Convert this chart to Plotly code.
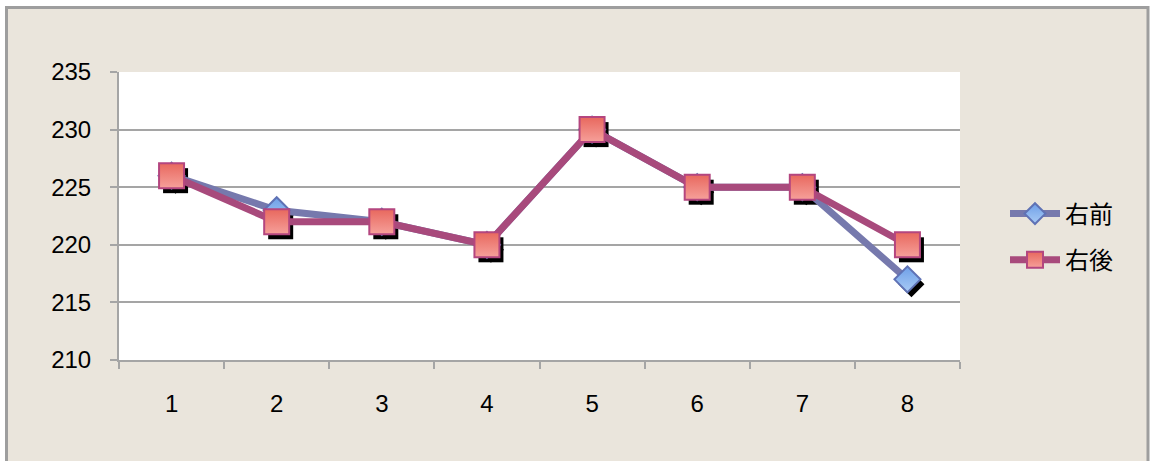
import plotly.graph_objects as go

categories = [1, 2, 3, 4, 5, 6, 7, 8]
series_names = ["右前", "右後"]
right_front = [226, 223, 222, 220, 230, 225, 225, 217]
right_rear = [226, 222, 222, 220, 230, 225, 225, 220]
y_ticks = [210, 215, 220, 225, 230, 235]

W, H = 1151, 461
L, R, T, B = 119, 187, 72, 96
pw, ph = W - L - R, H - T - B
ex, ey = 4 / pw, 5 / ph
grid = "#A5A5A5"
font_fam = "Liberation Sans, Noto Sans CJK JP"

fig = go.Figure()

# shadows (pixel offsets converted through axis scale)
xr = (0.5, 8.5)
yr = (210, 235)
main_w = pw * (1 - ex)
main_h = ph * (1 - ey)
dx = 4 * (xr[1] - xr[0]) / main_w
dy = 5 * (yr[1] - yr[0]) / main_h

fig.add_trace(go.Scatter(x=[c + dx for c in categories], y=[v - dy for v in right_front],
                         mode="markers", marker=dict(symbol="diamond", size=20, color="black"),
                         showlegend=False, hoverinfo="skip"))
fig.add_trace(go.Scatter(x=[c + dx for c in categories], y=[v - dy for v in right_rear],
                         mode="markers", marker=dict(symbol="square", size=25, color="black"),
                         showlegend=False, hoverinfo="skip"))

fig.add_trace(go.Scatter(
    x=categories, y=right_front, name=series_names[0], mode="lines+markers",
    line=dict(color="#7679AD", width=7),
    marker=dict(symbol="diamond", size=20, color="#6E9FE8",
                gradient=dict(type="vertical", color="#A9CBF5"),
                line=dict(color="#5F72B5", width=2)),
    legendgroup="a"))
fig.add_trace(go.Scatter(
    x=categories, y=right_rear, name=series_names[1], mode="lines+markers",
    line=dict(color="#A84A7C", width=7),
    marker=dict(symbol="square", size=25, color="#E8685E",
                gradient=dict(type="vertical", color="#F6A09A"),
                line=dict(color="#B4467F", width=2)),
    legendgroup="b"))

# chart frame
fig.add_shape(type="rect", xref="paper", yref="paper",
              x0=(6.5 - L) / pw, x1=(1148 - L) / pw,
              y0=-(480 - (H - B)) / ph, y1=((H - B) - 7.5) / ph,
              fillcolor="#EAE5DC", line=dict(color="#9E9E9E", width=3), layer="below")
fig.add_shape(type="rect", xref="x domain", yref="y domain", x0=0, x1=1, y0=0, y1=1,
              fillcolor="white", line=dict(width=0), layer="below")

fig.update_layout(
    width=W, height=H,
    margin=dict(l=L, r=R, t=T, b=B),
    paper_bgcolor="white", plot_bgcolor="rgba(0,0,0,0)",
    font=dict(family=font_fam, size=24, color="black"),
    xaxis=dict(domain=[0, 1 - ex], range=list(xr), tickmode="array",
               tickvals=categories, ticktext=[str(c) for c in categories],
               ticks="", showgrid=False, zeroline=False,
               showline=True, linecolor=grid, linewidth=2,
               ticklabelstandoff=21,
               minor=dict(tickmode="array", tickvals=[c - 0.5 for c in categories] + [8.5],
                          ticks="outside", ticklen=7, tickcolor=grid, tickwidth=2, showgrid=False)),
    yaxis=dict(domain=[ey, 1], range=list(yr), tickmode="array", tickvals=y_ticks,
               ticks="outside", ticklen=7, tickcolor=grid, tickwidth=2,
               showgrid=True, gridcolor=grid, gridwidth=2, zeroline=False,
               showline=True, linecolor=grid, linewidth=2, ticklabelstandoff=14),
    legend=dict(x=(1005 - L) / pw, y=((H - B) - 237) / ph, xanchor="left", yanchor="middle",
                bgcolor="rgba(0,0,0,0)", font=dict(size=24, family=font_fam),
                tracegroupgap=12, itemwidth=50),
    showlegend=True,
)

fig.write_html("out.html", config={"displayModeBar": False},
               post_script="document.body.style.margin='0';document.body.style.overflow='hidden';")
